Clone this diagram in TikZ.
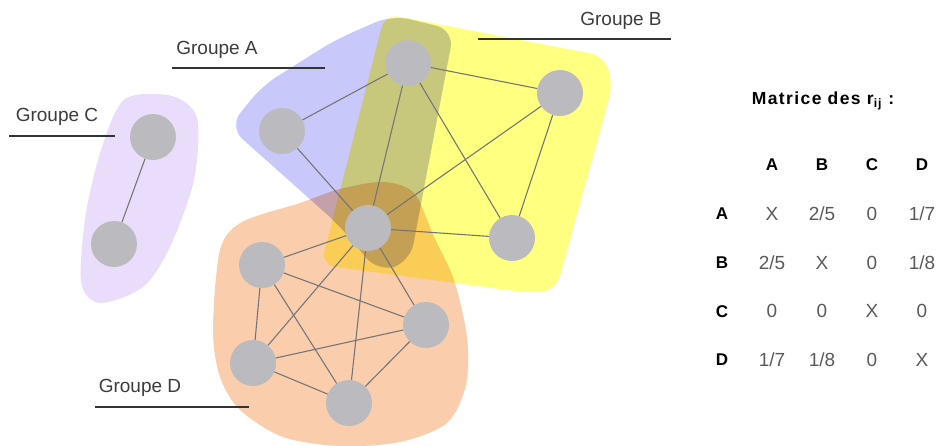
\documentclass[tikz,border=0pt]{standalone}
\usepackage{fontspec}
\setmainfont{Liberation Sans}
\usetikzlibrary{matrix}

\definecolor{grpA}{RGB}{200,200,250}
\definecolor{grpB}{RGB}{255,255,128}
\definecolor{grpC}{RGB}{234,221,251}
\definecolor{grpD}{RGB}{250,205,172}
\definecolor{vertexgray}{RGB}{187,187,191}
\definecolor{linkgray}{RGB}{118,118,118}
\definecolor{labelgray}{RGB}{60,60,60}
\definecolor{entrygray}{RGB}{90,90,90}

\tikzset{
  vertex/.style={circle, fill=vertexgray, minimum size=46pt, inner sep=0pt},
  link/.style={draw=linkgray, line width=1.1pt},
  grouplabel/.style={font=\fontsize{19}{22}\selectfont, text=labelgray, inner sep=0pt},
  leader/.style={draw=black!80, line width=1.3pt},
  cell/.style={anchor=center, minimum width=50pt, minimum height=48.75pt, inner sep=0pt,
    font=\fontsize{19}{22}\selectfont, text=entrygray},
  head/.style={anchor=center, minimum width=50pt, minimum height=48.75pt, inner sep=0pt,
    font=\fontsize{17}{20}\selectfont\bfseries, text=black},
}

\begin{document}
\begin{tikzpicture}[x=1pt, y=-1pt]
\useasboundingbox (0,0) rectangle (938,445);

% groups
\begin{scope}[blend mode=multiply]
  \fill[grpC] plot[smooth cycle] coordinates {(125,99) (172,96) (197,118) (194,180)
    (170,247) (143,287) (100,303) (81,282) (86,213) (102,147)};
  \fill[grpA, rounded corners=18pt] (229,127) -- (262,86) -- (335,40) -- (392,15)
    -- (454,30) -- (410,262) -- (378,272) -- (340,226) -- cycle;
  \fill[grpB, rounded corners=14pt] (385,14) -- (604,56) -- (613,84)
    -- (556,290) -- (530,293) -- (321,265) -- cycle;
  \fill[grpD] plot[smooth cycle] coordinates {(220,250) (242,222) (300,203) (340,189)
    (383,182) (414,193) (434,237) (454,280) (467,337) (466,385) (447,423) (400,442)
    (340,446) (283,437) (240,410) (220,377) (213,330)};
\end{scope}

% vertices
\node[vertex] (c1) at (153,137) {};
\node[vertex] (c2) at (114,244) {};
\node[vertex] (a1) at (282,131) {};
\node[vertex] (ab) at (408,63) {};
\node[vertex] (abd) at (368,228) {};
\node[vertex] (b1) at (560,93) {};
\node[vertex] (b2) at (512,238) {};
\node[vertex] (d1) at (262,265) {};
\node[vertex] (d2) at (426,325) {};
\node[vertex] (d3) at (253,363) {};
\node[vertex] (d4) at (349,403) {};

% links
\foreach \u/\v in {c1/c2, a1/ab, a1/abd, ab/abd, ab/b1, ab/b2, abd/b1, abd/b2, b1/b2,
  abd/d1, abd/d2, abd/d3, abd/d4, d1/d2, d1/d3, d1/d4, d2/d3, d2/d4, d3/d4}
  \draw[link] (\u) -- (\v);

% group names
\node[grouplabel] (labA) at (217,50) {Groupe A};
\node[grouplabel] (labB) at (621,21) {Groupe B};
\node[grouplabel] (labC) at (57,117) {Groupe C};
\node[grouplabel] (labD) at (140,388) {Groupe D};
\coordinate (lA1) at (172,68);  \coordinate (lA2) at (325,68);
\coordinate (lB1) at (478,39);  \coordinate (lB2) at (671,39);
\coordinate (lC1) at (9,136);   \coordinate (lC2) at (115,136);
\coordinate (lD1) at (95,407);  \coordinate (lD2) at (249,407);
\draw[leader] (lA1) -- (lA2);
\draw[leader] (lB1) -- (lB2);
\draw[leader] (lC1) -- (lC2);
\draw[leader] (lD1) -- (lD2);

% matrix of r_ij
\node[font=\fontsize{17.5}{21}\selectfont\bfseries\addfontfeature{LetterSpace=8}]
  (mtitle) at (823,101) {Matrice des r\textsubscript{ij} :};
\matrix (rmat) [matrix of nodes, nodes={cell}, row 1/.style={nodes=head},
  column 1/.style={nodes=head}, column sep=0pt, row sep=0pt] at (822,262.5) {
    & A & B & C & D \\
  A & X & 2/5 & 0 & 1/7 \\
  B & 2/5 & X & 0 & 1/8 \\
  C & 0 & 0 & X & 0 \\
  D & 1/7 & 1/8 & 0 & X \\
};
\end{tikzpicture}
\end{document}
